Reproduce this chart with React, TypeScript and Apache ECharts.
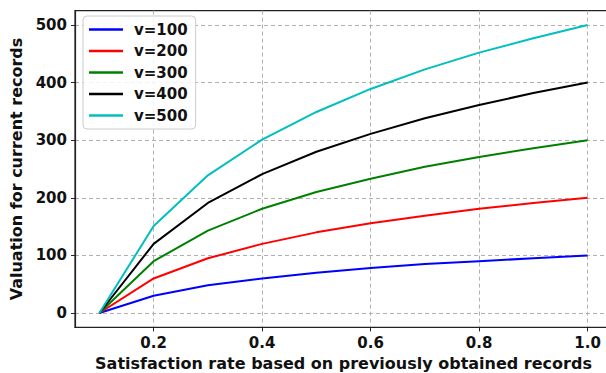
import React, { useEffect, useRef } from "react";
import * as echarts from "echarts";

const xValues = [0.1, 0.2, 0.3, 0.4, 0.5, 0.6, 0.7, 0.8, 0.9, 1.0];
const seriesNames = ["v=100", "v=200", "v=300", "v=400", "v=500"];
const v100 = [0, 30, 48, 60, 70, 78, 85, 90, 95, 100];
const v200 = [0, 60, 95, 120, 140, 156, 169, 181, 191, 200];
const v300 = [0, 90, 143, 181, 210, 233, 254, 271, 286, 300];
const v400 = [0, 120, 191, 241, 280, 311, 338, 361, 382, 400];
const v500 = [0, 151, 239, 301, 349, 389, 423, 452, 477, 500];
const seriesValues = [v100, v200, v300, v400, v500];
const colors = ["#0000ff", "#ff0000", "#008000", "#000000", "#00bfbf"];
const xTicks = [0.2, 0.4, 0.6, 0.8, 1.0];
const yTicks = [0, 100, 200, 300, 400, 500];

const FONT = "DejaVu Sans";

export default function App() {
  const ref = useRef<HTMLDivElement>(null);
  useEffect(() => {
    document.body.style.margin = "0";
    document.body.style.overflow = "hidden";
    const chart = echarts.init(ref.current!, null, { renderer: "svg" });
    const gridLine = { show: true, lineStyle: { color: "#b0b0b0", type: [4, 3], width: 1 } };
    chart.setOption({
      animation: false,
      backgroundColor: "#ffffff",
      grid: {
        left: 75,
        top: 10.6,
        width: 537,
        height: 316.8,
        show: true,
        borderColor: "#222",
        borderWidth: 1.2,
        containLabel: false,
        outerBoundsMode: "none",
      },
      legend: {
        orient: "vertical",
        left: 83,
        top: 16,
        data: seriesNames,
        icon: "rect",
        itemWidth: 34,
        itemHeight: 2.5,
        itemGap: 6.5,
        padding: [6, 8, 6, 6],
        borderColor: "#cccccc",
        borderWidth: 1,
        borderRadius: 4,
        backgroundColor: "rgba(255,255,255,0.85)",
        textStyle: { fontFamily: FONT, fontWeight: "bold", fontSize: 15, color: "#111", padding: [0, 0, 0, 6] },
      },
      xAxis: {
        type: "value",
        min: 0.055,
        max: 1.045,
        name: "Satisfaction rate based on previously obtained records",
        nameLocation: "middle",
        nameGap: 27,
        nameTextStyle: { fontFamily: FONT, fontWeight: "bold", fontSize: 16, color: "#111" },
        axisLine: { show: true, onZero: false, lineStyle: { color: "#222", width: 1.2 } },
        axisTick: { show: true, inside: false, length: 4, customValues: xTicks, lineStyle: { color: "#222" } },
        axisLabel: {
          customValues: xTicks,
          fontFamily: FONT,
          fontWeight: "bold",
          fontSize: 15,
          color: "#111",
          margin: 8,
          formatter: (v: number) => v.toFixed(1),
        },
        splitLine: gridLine,
      },
      yAxis: {
        type: "value",
        min: -25,
        max: 525,
        name: "Valuation for current records",
        nameLocation: "middle",
        nameGap: 50,
        nameTextStyle: { fontFamily: FONT, fontWeight: "bold", fontSize: 16, color: "#111" },
        axisLine: { show: true, onZero: false, lineStyle: { color: "#222", width: 1.2 } },
        axisTick: { show: true, inside: false, length: 4, customValues: yTicks, lineStyle: { color: "#222" } },
        axisLabel: {
          customValues: yTicks,
          fontFamily: FONT,
          fontWeight: "bold",
          fontSize: 15,
          color: "#111",
          margin: 8,
        },
        splitLine: gridLine,
      },
      series: seriesNames.map((name, i) => ({
        name,
        type: "line",
        data: xValues.map((x, j) => [x, seriesValues[i][j]]),
        symbol: "none",
        color: colors[i],
        lineStyle: { width: 2, color: colors[i] },
        z: 3,
      })),
    });
    return () => chart.dispose();
  }, []);
  return (
    <div style={{ position: "fixed", left: 0, top: 0, width: 606, height: 373, overflow: "hidden" }}>
      <div ref={ref} style={{ width: 606, height: 373 }} />
    </div>
  );
}
